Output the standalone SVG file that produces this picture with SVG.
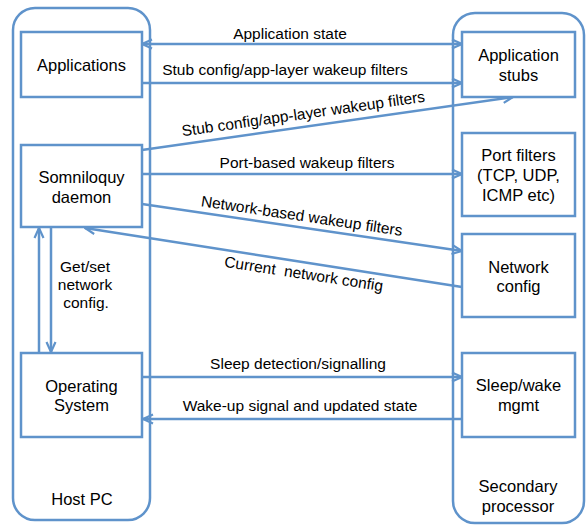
<svg xmlns="http://www.w3.org/2000/svg" width="586" height="525" viewBox="0 0 586 525">
<defs>
<marker id="arr" viewBox="0 0 12 12" refX="11" refY="6" markerWidth="12" markerHeight="12" markerUnits="userSpaceOnUse" orient="auto-start-reverse">
<path d="M1,1.5 L11,6 L1,10.5" fill="none" stroke="#5f93cb" stroke-width="2.2"/>
</marker>
<style>
.cont{fill:#fff;stroke:#5f93cb;stroke-width:2.5}
.box{fill:#fff;stroke:#5f93cb;stroke-width:2.5}
.ln{fill:none;stroke:#5f93cb;stroke-width:2.5}
.nt{font-family:"Liberation Sans",Arial,sans-serif;font-size:16.5px;fill:#000;text-anchor:middle}
.lt{font-family:"Liberation Sans",Arial,sans-serif;font-size:15.5px;fill:#000;text-anchor:middle;white-space:pre}
</style>
</defs>
<rect width="586" height="525" fill="#fff"/>
<g id="host-pc">
<rect class="cont" x="13" y="8" width="137" height="512" rx="22"/>
<text class="nt" x="82" y="505">Host PC</text>
</g>
<g id="secondary-processor">
<rect class="cont" x="453" y="13" width="131" height="510" rx="22"/>
<text class="nt" x="518" y="492">Secondary</text>
<text class="nt" x="518" y="512">processor</text>
</g>
<g id="connectors">
<line class="ln" x1="142" y1="44" x2="462" y2="44" marker-start="url(#arr)" marker-end="url(#arr)"/>
<line class="ln" x1="142" y1="83" x2="462" y2="83" marker-end="url(#arr)"/>
<line class="ln" x1="142" y1="150" x2="513" y2="97" marker-end="url(#arr)"/>
<line class="ln" x1="142" y1="174" x2="462" y2="174" marker-end="url(#arr)"/>
<line class="ln" x1="142" y1="204" x2="462" y2="251" marker-end="url(#arr)"/>
<line class="ln" x1="462" y1="287" x2="85" y2="228" marker-end="url(#arr)"/>
<line class="ln" x1="39" y1="353" x2="39" y2="228" marker-end="url(#arr)"/>
<line class="ln" x1="51" y1="228" x2="51" y2="352" marker-end="url(#arr)"/>
<line class="ln" x1="142" y1="377" x2="462" y2="377" marker-end="url(#arr)"/>
<line class="ln" x1="462" y1="419" x2="143" y2="419" marker-end="url(#arr)"/>
<text class="lt" x="290" y="39">Application state</text>
<text class="lt" x="285" y="75">Stub config/app-layer wakeup filters</text>
<text class="lt" x="304" y="119" transform="rotate(-8.13 304 119)">Stub config/app-layer wakeup filters</text>
<text class="lt" x="307" y="168">Port-based wakeup filters</text>
<text class="lt" x="301" y="221" transform="rotate(8.36 301 221)">Network-based wakeup filters</text>
<text class="lt" x="303" y="279" transform="rotate(8.75 303 279)">Current  network config</text>
<text class="lt" x="85" y="272">Get/set</text>
<text class="lt" x="85" y="290">network</text>
<text class="lt" x="86" y="308">config.</text>
<text class="lt" x="298" y="369">Sleep detection/signalling</text>
<text class="lt" x="300" y="411">Wake-up signal and updated state</text>
</g>
<g id="applications">
<rect class="box" x="21" y="32" width="121" height="65"/>
<text class="nt" x="81.5" y="71">Applications</text>
</g>
<g id="somniloquy-daemon">
<rect class="box" x="21" y="145" width="121" height="82"/>
<text class="nt" x="81.5" y="183">Somniloquy</text>
<text class="nt" x="81.5" y="203">daemon</text>
</g>
<g id="operating-system">
<rect class="box" x="21" y="353" width="121" height="84"/>
<text class="nt" x="81.5" y="392">Operating</text>
<text class="nt" x="81.5" y="411">System</text>
</g>
<g id="application-stubs">
<rect class="box" x="462" y="32" width="113" height="65"/>
<text class="nt" x="518.5" y="61">Application</text>
<text class="nt" x="518.5" y="81">stubs</text>
</g>
<g id="port-filters">
<rect class="box" x="462" y="133" width="113" height="83"/>
<text class="nt" x="518.5" y="161">Port filters</text>
<text class="nt" x="518.5" y="181">(TCP, UDP,</text>
<text class="nt" x="518.5" y="201">ICMP etc)</text>
</g>
<g id="network-config">
<rect class="box" x="462" y="234" width="113" height="83"/>
<text class="nt" x="518.5" y="273">Network</text>
<text class="nt" x="518.5" y="292">config</text>
</g>
<g id="sleep-wake-mgmt">
<rect class="box" x="462" y="353" width="113" height="84"/>
<text class="nt" x="518.5" y="391">Sleep/wake</text>
<text class="nt" x="518.5" y="411">mgmt</text>
</g>
</svg>
